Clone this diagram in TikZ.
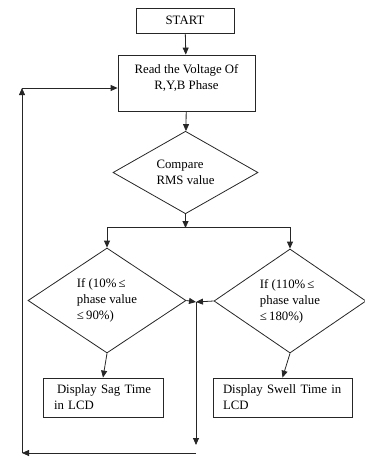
\documentclass[tikz,border=0pt]{standalone}
\usepackage{fontspec}
\setmainfont{Liberation Serif}
\usetikzlibrary{shapes.geometric,arrows.meta}
\begin{document}
\begin{tikzpicture}[x=1pt,y=-1pt,
  ln/.style={line width=0.8pt,draw=black!85},
  arr/.style={ln,-{Triangle[length=7pt,width=6pt]}},
  txt/.style={font=\fontsize{12.8}{16}\selectfont},
  rbox/.style={ln,txt,rectangle,inner sep=0pt},
  dbox/.style={ln,txt,diamond,inner sep=0pt,align=left}]
\useasboundingbox (0,0) rectangle (365,459);
\node[rbox,minimum width=98,minimum height=25] (start) at (185,20.5) {START};
\node[rbox,minimum width=137,minimum height=56,align=center] (read) at (186.5,83)
  {Read the Voltage Of\\R,Y,B Phase\\[-4pt]\mbox{}};
\node[dbox,minimum width=145,minimum height=75] (cmp) at (185.5,172.5)
  {Compare\\RMS value};
\node[dbox,minimum width=158,minimum height=105] (lft) at (107,300.5)
  {If (10\%\,≤\\phase value\\≤\,90\%)};
\node[dbox,minimum width=152,minimum height=104] (rgt) at (290,301)
  {If (110\%\,≤\\phase value\\≤\,180\%)};
\node[rbox,minimum width=120,minimum height=39,text width=98,inner xsep=11pt,align=left] (sag) at (103,397.5)
  {\hspace*{3pt}Display Sag Time\\in LCD};
\node[rbox,minimum width=139,minimum height=39,text width=119,inner xsep=10pt,align=left] (swell) at (282.5,397.5)
  {Display Swell Time in\\LCD};
\coordinate (split) at (185.5,227);
\coordinate (j) at (196,302);
\coordinate (jb) at (196,445);
\coordinate (jc) at (196,453);
\coordinate (lb) at (22,453);
\coordinate (lt) at (22,88);
\draw[arr] (start) -- (read);
\draw[arr] (read) -- (cmp);
\draw[arr] (cmp.south) -- ([yshift=-1pt]split);
\draw[ln] (lft.north |- split) -- (rgt.north |- split);
\draw[arr] (split -| lft.north) -- (lft.north);
\draw[arr] (split -| rgt.north) -- (rgt.north);
\draw[arr] (lft.south) -- (sag.north);
\draw[arr] (rgt.south) -- (swell.north);
\draw[arr] (lft.east) -- (j);
\draw[arr] (rgt.west) -- (j);
\draw[arr] (j) -- (jb);
\draw[arr] (jc) -- (lb);
\draw[arr] (lb) -- (lt);
\draw[arr] (lt) -- (lt -| read.west);
\end{tikzpicture}
\end{document}
